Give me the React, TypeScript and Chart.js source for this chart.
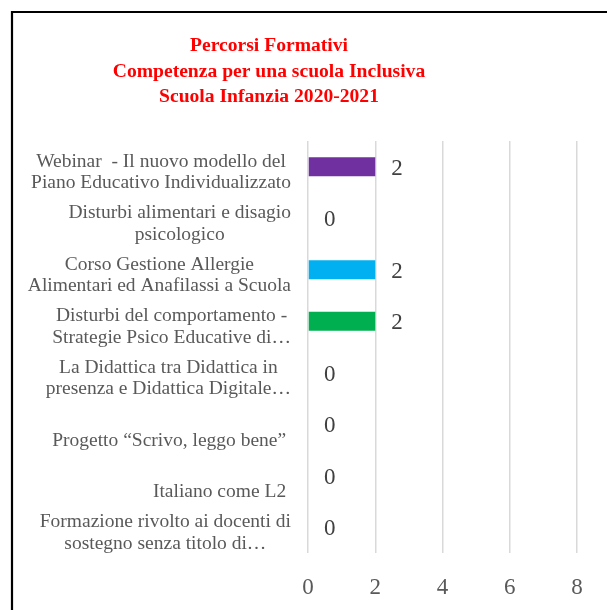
import React, { useEffect, useRef } from "react";
import { Chart, registerables } from "chart.js";

Chart.register(...registerables);

const titleLines = [
  "Percorsi Formativi",
  "Competenza per una scuola Inclusiva",
  "Scuola Infanzia 2020-2021",
];

const categories: string[][] = [
  ["Webinar  - Il nuovo modello del", "Piano Educativo Individualizzato"],
  ["Disturbi alimentari e disagio", "psicologico"],
  ["Corso Gestione Allergie", "Alimentari ed Anafilassi a Scuola"],
  ["Disturbi del comportamento -", "Strategie Psico Educative di…"],
  ["La Didattica tra Didattica in", "presenza e Didattica Digitale…"],
  ["", "Progetto “Scrivo, leggo bene” "],
  ["", "Italiano come L2 "],
  ["Formazione rivolto ai docenti di", "sostegno senza titolo di…"],
];

const values = [2, 0, 2, 2, 0, 0, 0, 0];

const barColors = [
  "#7030A0",
  "#7030A0",
  "#00B0F0",
  "#00B050",
  "#4472C4",
  "#4472C4",
  "#4472C4",
  "#4472C4",
];

const xTicks = { min: 0, max: 8, step: 2 };

const FONT = '"Liberation Serif", "Times New Roman", serif';

const framePlugin = {
  id: "framePlugin",
  beforeDraw(chart: any) {
    const ctx = chart.ctx;
    ctx.save();
    ctx.fillStyle = "#ffffff";
    ctx.fillRect(0, 0, chart.width, chart.height);
    ctx.strokeStyle = "#000000";
    ctx.lineWidth = 2.2;
    ctx.beginPath();
    ctx.moveTo(12, chart.height + 10);
    ctx.lineTo(12, 12);
    ctx.lineTo(chart.width + 10, 12);
    ctx.stroke();
    ctx.restore();
  },
  afterDraw(chart: any) {
    const ctx = chart.ctx;
    ctx.save();
    ctx.fillStyle = "#FF0000";
    ctx.font = `bold 19.6px ${FONT}`;
    ctx.textAlign = "center";
    ctx.textBaseline = "middle";
    titleLines.forEach((t, i) => {
      ctx.fillText(t, 269, 46 + i * 25.7);
    });
    ctx.restore();
  },
};

const labelPlugin = {
  id: "labelPlugin",
  afterDatasetsDraw(chart: any) {
    const ctx = chart.ctx;
    const yScale = chart.scales.y;
    ctx.save();
    ctx.fillStyle = "#595959";
    ctx.font = `19.5px ${FONT}`;
    ctx.textAlign = "center";
    ctx.textBaseline = "middle";
    const right = chart.chartArea.left - 17;
    const lh = 21.5;
    categories.forEach((lines, i) => {
      const cy = yScale.getPixelForValue(i) + 5.5;
      const w = Math.max(...lines.map((l) => ctx.measureText(l).width));
      const cx = right - w / 2;
      lines.forEach((l, j) => {
        const y = cy + (j - (lines.length - 1) / 2) * lh;
        ctx.fillText(l, cx, y);
      });
    });
    // data labels
    ctx.fillStyle = "#404040";
    ctx.font = `23px ${FONT}`;
    ctx.textAlign = "left";
    const meta = chart.getDatasetMeta(0);
    meta.data.forEach((bar: any, i: number) => {
      ctx.fillText(String(values[i]), bar.x + 16, bar.y + 2);
    });
    ctx.restore();
  },
};

export default function App() {
  const ref = useRef<HTMLCanvasElement>(null);
  useEffect(() => {
    if (!ref.current) return;
    const chart = new Chart(ref.current, {
      type: "bar",
      data: {
        labels: categories.map((c) => c.join(" ")),
        datasets: [
          {
            data: values,
            backgroundColor: barColors,
            barPercentage: 0.37,
            categoryPercentage: 1,
          },
        ],
      },
      options: {
        indexAxis: "y",
        responsive: false,
        animation: false,
        layout: { padding: { top: 141, right: 30, bottom: 0, left: 0 } },
        plugins: {
          legend: { display: false },
          title: { display: false },
          tooltip: { enabled: false },
        },
        scales: {
          x: {
            min: xTicks.min,
            max: xTicks.max,
            ticks: {
              stepSize: xTicks.step,
              color: "#595959",
              font: { family: FONT, size: 23 },
              padding: 21,
            },
            grid: { color: "#d9d9d9", lineWidth: 1.5, drawTicks: false },
            border: { display: false },
            afterFit(scale: any) {
              scale.height = 57;
            },
          },
          y: {
            ticks: { display: false },
            grid: { display: false, drawTicks: false },
            border: { display: false },
            afterFit(scale: any) {
              scale.width = 308;
            },
          },
        },
      },
      plugins: [framePlugin, labelPlugin],
    });
    return () => chart.destroy();
  }, []);
  return (
    <div style={{ position: "absolute", left: 0, top: 0, width: 607, height: 610 }}>
      <canvas ref={ref} width={607} height={610} />
    </div>
  );
}
